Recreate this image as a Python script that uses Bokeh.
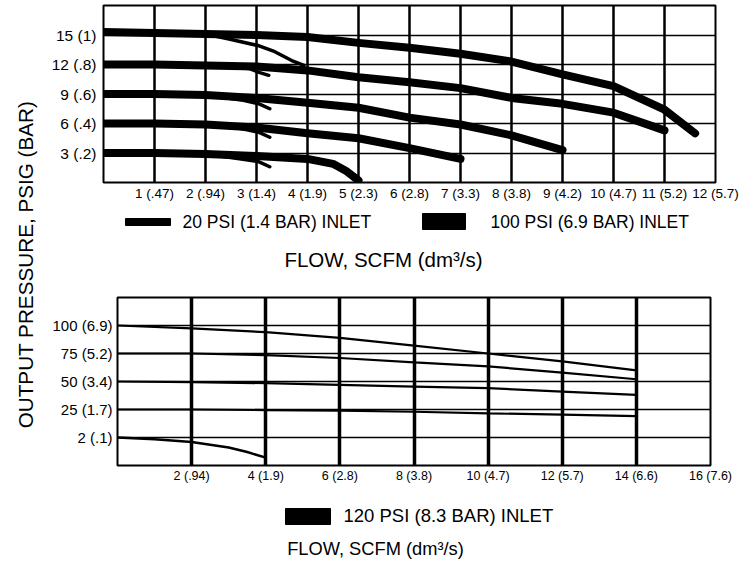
import math
from bokeh.plotting import figure
from bokeh.layouts import row, column
from bokeh.models import Range1d, FixedTicker
from bokeh.embed import file_html
from bokeh.resources import INLINE
from bokeh.core.properties import value

FONT = "Liberation Sans"

# ---------------- data: upper chart (flow SCFM vs output psig) ----------------
top_x_ticks = [1, 2, 3, 4, 5, 6, 7, 8, 9, 10, 11, 12]
top_x_labels = ["1 (.47)", "2 (.94)", "3 (1.4)", "4 (1.9)", "5 (2.3)", "6 (2.8)",
                "7 (3.3)", "8 (3.8)", "9 (4.2)", "10 (4.7)", "11 (5.2)", "12 (5.7)"]
top_y_ticks = [3, 6, 9, 12, 15]
top_y_labels = ["3 (.2)", "6 (.4)", "9 (.6)", "12 (.8)", "15 (1)"]

# 100 PSI (6.9 BAR) inlet
hi_15_flow = [0, 1, 2, 3, 4, 5, 6, 7, 8, 9, 10, 11, 11.6]
hi_15_psig = [15.3, 15.2, 15.1, 15.0, 14.8, 14.2, 13.7, 13.1, 12.3, 11.0, 9.8, 7.4, 5.0]
hi_12_flow = [0, 1, 2, 3, 4, 5, 6, 7, 8, 9, 10, 11]
hi_12_psig = [12.0, 12.0, 11.9, 11.8, 11.4, 10.7, 10.2, 9.6, 8.6, 8.0, 7.1, 5.3]
hi_9_flow = [0, 1, 2, 3, 4, 5, 6, 7, 8, 9]
hi_9_psig = [9.0, 9.0, 8.9, 8.6, 8.1, 7.6, 6.6, 5.9, 4.8, 3.3]
hi_6_flow = [0, 1, 2, 3, 4, 5, 6, 7]
hi_6_psig = [6.0, 6.0, 5.9, 5.6, 5.0, 4.5, 3.5, 2.4]
hi_3_flow = [0, 1, 2, 3, 4, 4.5, 4.75, 5.0]
hi_3_psig = [3.0, 3.0, 2.9, 2.7, 2.4, 1.9, 1.2, 0.2]

# 20 PSI (1.4 BAR) inlet
lo_15_flow = [0, 1, 2, 2.46, 3.05, 3.36, 3.69, 3.93]
lo_15_psig = [15.3, 15.2, 15.1, 14.6, 13.9, 13.3, 12.4, 11.9]
lo_12_flow = [0, 1, 2, 2.85, 3.05, 3.24]
lo_12_psig = [12.0, 12.0, 11.9, 11.6, 11.2, 10.9]
lo_9_flow = [0, 1, 2, 2.7, 3.05, 3.26]
lo_9_psig = [9.0, 9.0, 8.9, 8.4, 8.0, 7.5]
lo_6_flow = [0, 1, 2, 2.7, 3.05, 3.26]
lo_6_psig = [6.0, 6.0, 5.9, 5.5, 5.1, 4.6]
lo_3_flow = [0, 1, 2, 2.7, 3.05, 3.26]
lo_3_psig = [3.0, 3.0, 2.9, 2.4, 2.1, 1.6]

# ---------------- data: lower chart (120 PSI inlet) ----------------
bot_x_ticks = [2, 4, 6, 8, 10, 12, 14, 16]
bot_x_labels = ["2 (.94)", "4 (1.9)", "6 (2.8)", "8 (3.8)", "10 (4.7)",
                "12 (5.7)", "14 (6.6)", "16 (7.6)"]
bot_y_ticks = [0, 25, 50, 75, 100]
bot_y_labels = ["2 (.1)", "25 (1.7)", "50 (3.4)", "75 (5.2)", "100 (6.9)"]

b_flow = [0, 2, 4, 6, 8, 10, 12, 14]
b_100 = [100, 97.5, 94, 89, 82, 75, 68, 60]
b_75 = [75, 75, 73.5, 71, 67, 63.5, 58, 52]
b_50 = [50, 49.5, 48.5, 47, 45.5, 44, 41, 38]
b_25 = [25, 25, 24.5, 24, 23, 21.5, 20.5, 19]
b_2_flow = [0, 1, 2, 3, 3.5, 4]
b_2 = [0, -1.5, -4, -9, -13, -18]

legend_top = ["20 PSI (1.4 BAR) INLET", "100 PSI (6.9 BAR) INLET"]
legend_bot = ["120 PSI (8.3 BAR) INLET"]
x_title = "FLOW, SCFM (dm\u00b3/s)"
y_title = "OUTPUT PRESSURE, PSIG (BAR)"

LEFT_W = 40
RIGHT_W = 739 - LEFT_W
TOP_H = 210


def style_chart(p, xt, xl, yt, yl, xsize, ysize, vgrid_w):
    p.outline_line_color = "black"
    p.outline_line_width = 2
    p.background_fill_color = "white"
    p.border_fill_color = "white"
    for ax in (p.xaxis[0], p.yaxis[0]):
        ax.axis_line_color = None
        ax.major_tick_line_color = None
        ax.minor_tick_line_color = None
        ax.major_tick_out = 0
        ax.major_tick_in = 0
        ax.major_label_text_font = FONT
        ax.major_label_text_color = "black"
    p.xaxis[0].ticker = FixedTicker(ticks=xt)
    p.xaxis[0].major_label_overrides = {t: l for t, l in zip(xt, xl)}
    p.xaxis[0].major_label_text_font_size = xsize
    p.xaxis[0].major_label_standoff = 3
    p.yaxis[0].ticker = FixedTicker(ticks=yt)
    p.yaxis[0].major_label_overrides = {t: l for t, l in zip(yt, yl)}
    p.yaxis[0].major_label_text_font_size = ysize
    p.yaxis[0].major_label_standoff = 7
    p.xgrid[0].grid_line_color = "black"
    p.xgrid[0].grid_line_width = vgrid_w
    p.xgrid[0].grid_line_alpha = 1
    p.ygrid[0].grid_line_color = "black"
    p.ygrid[0].grid_line_width = 1.3
    p.ygrid[0].grid_line_alpha = 1


def blank(p):
    p.axis.visible = False
    p.grid.visible = False
    p.outline_line_color = None
    p.background_fill_color = "white"
    p.border_fill_color = "white"


# ---------------- upper chart ----------------
top = figure(width=RIGHT_W, height=TOP_H, x_range=Range1d(0, 12), y_range=Range1d(0, 18),
             output_backend="svg", toolbar_location=None,
             min_border_left=103 - LEFT_W, min_border_right=24,
             min_border_top=5, min_border_bottom=TOP_H - 182)
style_chart(top, top_x_ticks, top_x_labels, top_y_ticks, top_y_labels, "13.5px", "15.5px", 2.5)
top.xgrid[0].ticker = FixedTicker(ticks=top_x_ticks[:-1])
top.ygrid[0].ticker = FixedTicker(ticks=top_y_ticks)

for fx, fy in [(lo_15_flow, lo_15_psig), (lo_12_flow, lo_12_psig), (lo_9_flow, lo_9_psig),
               (lo_6_flow, lo_6_psig), (lo_3_flow, lo_3_psig)]:
    top.line(fx, fy, line_color="black", line_width=3.5, line_cap="round", line_join="round")
for fx, fy in [(hi_15_flow, hi_15_psig), (hi_12_flow, hi_12_psig), (hi_9_flow, hi_9_psig),
               (hi_6_flow, hi_6_psig), (hi_3_flow, hi_3_psig)]:
    top.line(fx, fy, line_color="black", line_width=8, line_cap="round", line_join="round")

# ---------------- upper legend + title (pixel coordinates of the page) ----------------
tl = figure(width=RIGHT_W, height=285 - TOP_H, x_range=Range1d(LEFT_W, 739),
            y_range=Range1d(285, TOP_H),
            output_backend="svg", toolbar_location=None, min_border=0)
blank(tl)
tl.quad(left=[125, 422], right=[170, 465], top=[218, 213], bottom=[225, 229], color="black")
tl.text(x=[182, 490], y=[221.5, 221.5], text=legend_top,
        text_font=value(FONT), text_font_size=value("17.5px"),
        text_baseline="middle", text_align="left", text_color="black")
tl.text(x=[383], y=[259], text=[x_title], text_font=value(FONT),
        text_font_size=value("20.5px"), text_baseline="middle", text_align="center",
        text_color="black")

# ---------------- lower chart ----------------
bot = figure(width=RIGHT_W, height=200, x_range=Range1d(0, 16), y_range=Range1d(-25, 125),
             output_backend="svg", toolbar_location=None,
             min_border_left=117 - LEFT_W, min_border_right=29,
             min_border_top=12, min_border_bottom=20)
style_chart(bot, bot_x_ticks, bot_x_labels, bot_y_ticks, bot_y_labels, "12.5px", "15px", 3.5)
bot.yaxis[0].major_label_standoff = 5
bot.xgrid[0].ticker = FixedTicker(ticks=bot_x_ticks[:-1])
bot.ygrid[0].ticker = FixedTicker(ticks=bot_y_ticks)
for fy in [b_100, b_75, b_50, b_25]:
    bot.line(b_flow, fy, line_color="black", line_width=2.2)
bot.line(b_2_flow, b_2, line_color="black", line_width=2.5)

# ---------------- lower legend + title (pixel coordinates of the page) ----------------
bl = figure(width=RIGHT_W, height=79, x_range=Range1d(LEFT_W, 739), y_range=Range1d(564, 485),
            output_backend="svg", toolbar_location=None, min_border=0)
blank(bl)
bl.quad(left=[285], right=[330], top=[508], bottom=[524], color="black")
bl.text(x=[343], y=[515], text=legend_bot, text_font=value(FONT),
        text_font_size=value("18.5px"), text_baseline="middle", text_align="left",
        text_color="black")
bl.text(x=[375], y=[548], text=[x_title], text_font=value(FONT),
        text_font_size=value("18.3px"), text_baseline="middle", text_align="center",
        text_color="black")

# ---------------- y title ----------------
yt = figure(width=LEFT_W, height=564, x_range=Range1d(0, LEFT_W), y_range=Range1d(564, 0),
            output_backend="svg", toolbar_location=None, min_border=0)
blank(yt)
yt.text(x=[25], y=[264], text=[y_title], angle=math.pi / 2, text_font=value(FONT),
        text_font_size=value("20.7px"), text_baseline="middle", text_align="center",
        text_color="black")

layout = row(column(yt), column(row(top), row(tl), row(bot), row(bl), spacing=0), spacing=0)
open("out.html", "w").write(file_html(layout, INLINE))
